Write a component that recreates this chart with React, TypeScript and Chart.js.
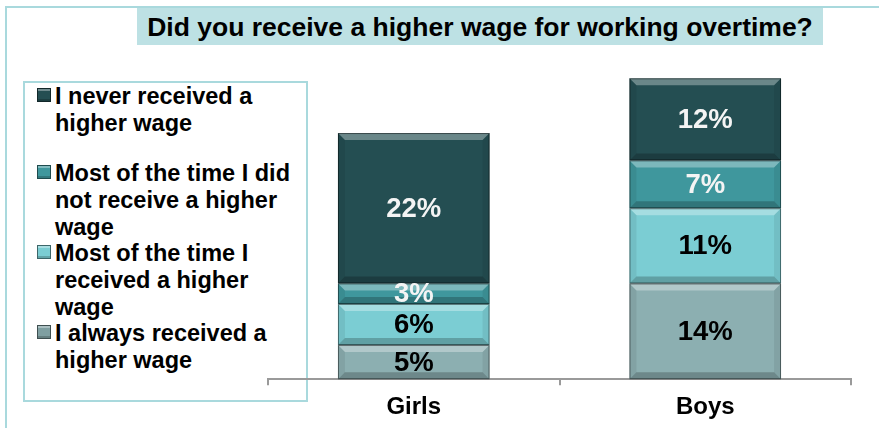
import React, { useEffect, useRef } from "react";
import { Chart, registerables } from "chart.js";

Chart.register(...registerables);

const titleText = "Did you receive a higher wage for working overtime?";
const categories = ["Girls", "Boys"];
const seriesNames = [
  "I always received a higher wage",
  "Most of the time I received a higher wage",
  "Most of the time I did not receive a higher wage",
  "I never received a higher wage",
];
const alwaysValues = [5, 14];
const mostReceivedValues = [6, 11];
const mostNotValues = [3, 7];
const neverValues = [22, 12];
const seriesColors = ["#8cafb1", "#7bcdd3", "#3f979d", "#244e52"];
const labelColors = ["#000000", "#000000", "#f4f4f4", "#f4f4f4"];
const legendLines = [
  ["I never received a", "higher wage"],
  ["Most of the time I did", "not receive a higher", "wage"],
  ["Most of the time I", "received a higher", "wage"],
  ["I always received a", "higher wage"],
];
const legendColors = ["#244e52", "#3f979d", "#7bcdd3", "#7f9fa1"];
const yMax = 48;

const FONT = '"Liberation Sans", Arial, sans-serif';

function drawBevel(ctx: CanvasRenderingContext2D, l: number, t: number, r: number, b: number) {
  const w = r - l;
  const h = b - t;
  const k = Math.max(0, Math.min(7, h / 2, w / 2));
  ctx.save();
  ctx.fillStyle = "rgba(255,255,255,0.32)";
  ctx.beginPath();
  ctx.moveTo(l, t);
  ctx.lineTo(r, t);
  ctx.lineTo(r - k, t + k);
  ctx.lineTo(l + k, t + k);
  ctx.closePath();
  ctx.fill();
  ctx.fillStyle = "rgba(0,0,0,0.22)";
  ctx.beginPath();
  ctx.moveTo(l, b);
  ctx.lineTo(r, b);
  ctx.lineTo(r - k, b - k);
  ctx.lineTo(l + k, b - k);
  ctx.closePath();
  ctx.fill();
  ctx.fillStyle = "rgba(0,0,0,0.07)";
  ctx.beginPath();
  ctx.moveTo(l, t);
  ctx.lineTo(l + k, t + k);
  ctx.lineTo(l + k, b - k);
  ctx.lineTo(l, b);
  ctx.closePath();
  ctx.fill();
  ctx.beginPath();
  ctx.moveTo(r, t);
  ctx.lineTo(r - k, t + k);
  ctx.lineTo(r - k, b - k);
  ctx.lineTo(r, b);
  ctx.closePath();
  ctx.fill();
  ctx.strokeStyle = "rgba(0,0,0,0.45)";
  ctx.lineWidth = 1;
  ctx.strokeRect(l + 0.5, t + 0.5, w - 1, h - 1);
  ctx.restore();
}

const barDecor = {
  id: "barDecor",
  afterDatasetsDraw(chart: any) {
    const ctx = chart.ctx as CanvasRenderingContext2D;
    chart.data.datasets.forEach((ds: any, di: number) => {
      const meta = chart.getDatasetMeta(di);
      meta.data.forEach((el: any) => {
        const p = el.getProps(["x", "y", "base", "width"], true);
        const l = p.x - p.width / 2;
        const r = p.x + p.width / 2;
        const t = Math.min(p.y, p.base);
        const b = Math.max(p.y, p.base);
        drawBevel(ctx, l, t, r, b);
      });
    });
    chart.data.datasets.forEach((ds: any, di: number) => {
      const meta = chart.getDatasetMeta(di);
      meta.data.forEach((el: any, i: number) => {
        const p = el.getProps(["x", "y", "base"], true);
        ctx.save();
        ctx.font = `bold 27.5px ${FONT}`;
        ctx.fillStyle = labelColors[di];
        ctx.textAlign = "center";
        ctx.textBaseline = "middle";
        ctx.fillText(`${ds.data[i]}%`, p.x, (p.y + p.base) / 2 + 1);
        ctx.restore();
      });
    });
  },
};

export default function App() {
  const canvasRef = useRef<HTMLCanvasElement | null>(null);

  useEffect(() => {
    if (!canvasRef.current) return;
    const chart = new Chart(canvasRef.current, {
      type: "bar",
      data: {
        labels: categories,
        datasets: [
          { label: seriesNames[0], data: alwaysValues, backgroundColor: seriesColors[0] },
          { label: seriesNames[1], data: mostReceivedValues, backgroundColor: seriesColors[1] },
          { label: seriesNames[2], data: mostNotValues, backgroundColor: seriesColors[2] },
          { label: seriesNames[3], data: neverValues, backgroundColor: seriesColors[3] },
        ],
      },
      options: {
        responsive: false,
        animation: false,
        devicePixelRatio: 1,
        layout: { padding: { left: 268, right: 28, top: 51, bottom: 6 } },
        datasets: { bar: { categoryPercentage: 1, barPercentage: 0.52, borderWidth: 0 } },
        plugins: {
          legend: { display: false },
          tooltip: { enabled: false },
          title: { display: false },
        },
        scales: {
          x: {
            stacked: true,
            grid: {
              display: true,
              drawOnChartArea: false,
              drawTicks: true,
              tickLength: 6,
              color: "#9a9a9a",
              lineWidth: 2,
              offset: true,
            },
            border: { display: true, color: "#9a9a9a", width: 2 },
            ticks: {
              color: "#000000",
              padding: 8,
              font: { family: FONT, size: 24, weight: "bold" },
            },
          },
          y: {
            stacked: true,
            display: false,
            min: 0,
            max: yMax,
          },
        },
      },
      plugins: [barDecor],
    });
    return () => chart.destroy();
  }, []);

  return (
    <div
      style={{
        position: "fixed",
        left: 0,
        top: 0,
        width: 879,
        height: 428,
        background: "#ffffff",
        overflow: "hidden",
        fontFamily: FONT,
      }}
    >
      <div
        style={{
          position: "absolute",
          left: 5,
          top: 6,
          width: 900,
          height: 500,
          borderLeft: "2px solid #a9d9dd",
          borderTop: "2px solid #a9d9dd",
        }}
      />
      <div
        style={{
          position: "absolute",
          left: 137,
          top: 8,
          width: 686,
          height: 37,
          background: "#bde1e4",
          color: "#000",
          fontWeight: "bold",
          fontSize: 26.5,
          lineHeight: "39px",
          textAlign: "center",
          whiteSpace: "nowrap",
        }}
      >
        {titleText}
      </div>
      <div
        style={{
          position: "absolute",
          left: 23,
          top: 81,
          width: 281,
          height: 317,
          border: "2px solid #a9d9dd",
        }}
      />
      {legendLines.map((lines, i) => (
        <div
          key={i}
          style={{
            position: "absolute",
            left: 37,
            top: [83, 160, 240, 320][i],
            width: 270,
          }}
        >
          <div
            style={{
              position: "absolute",
              left: 0,
              top: 5,
              width: 12,
              height: 12,
              background: legendColors[i],
              border: "1px solid rgba(0,0,0,0.5)",
              boxShadow: "inset 0 2px 0 rgba(255,255,255,0.35), inset 0 -2px 0 rgba(0,0,0,0.2)",
            }}
          />
          <div
            style={{
              position: "absolute",
              left: 18,
              top: 0,
              fontWeight: "bold",
              fontSize: 23.5,
              lineHeight: "27px",
              color: "#000",
              whiteSpace: "nowrap",
            }}
          >
            {lines.map((ln, j) => (
              <div key={j}>{ln}</div>
            ))}
          </div>
        </div>
      ))}
      <canvas
        ref={canvasRef}
        width={879}
        height={436}
        style={{ position: "absolute", left: 0, top: 0, width: 879, height: 436 }}
      />
    </div>
  );
}
